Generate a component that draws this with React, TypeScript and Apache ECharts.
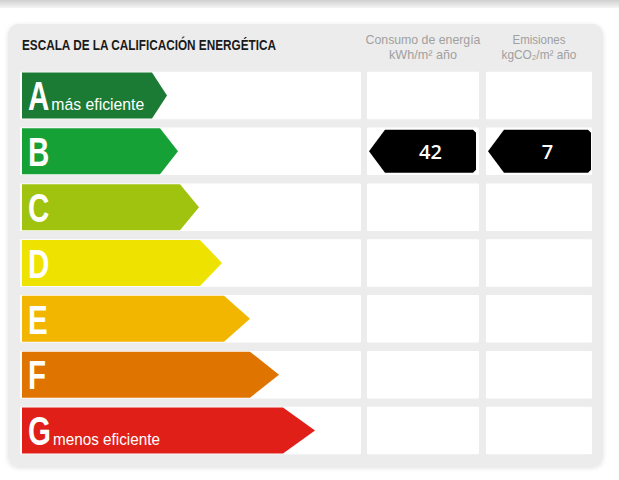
import React, { useEffect, useRef } from 'react';
import * as echarts from 'echarts';

const grades = ['A', 'B', 'C', 'D', 'E', 'F', 'G'];
const gradeNotes = ['más eficiente', '', '', '', '', '', 'menos eficiente'];
const gradeColors = ['#1b7a34', '#16a136', '#a0c30f', '#eee300', '#f2b500', '#e07400', '#df1f18'];
// arrow lengths measured from the arrow's left edge (tip and shoulder)
const arrowTips = [145, 156, 177, 200, 228, 257, 293];
const arrowShoulders = [130, 138, 158, 178, 202, 228, 261];
const title = 'ESCALA DE LA CALIFICACIÓN ENERGÉTICA';
const energyHeader = ['Consumo de energía', 'kWh/m² año'];
const emissionHeader = ['Emisiones', 'kgCO₂/m² año'];
const ratedGrade = 'B';
const energyValue = 42;
const emissionValue = 7;

const SANS = '"Liberation Sans", Arial, sans-serif';

let measureCtx: CanvasRenderingContext2D | null = null;
function textWidth(text: string, font: string) {
  if (!measureCtx) measureCtx = document.createElement('canvas').getContext('2d');
  measureCtx!.font = font;
  return measureCtx!.measureText(text).width;
}
function fitScale(text: string, font: string, target: number) {
  const w = textWidth(text, font);
  return w > 0 ? target / w : 1;
}

export default function App() {
  const ref = useRef<HTMLDivElement>(null);
  useEffect(() => {
    document.body.style.margin = '0';
    const chart = echarts.init(ref.current!, null, { renderer: 'svg' });
    const ratedIdx = grades.indexOf(ratedGrade);

    const titleFont = `bold 15px ${SANS}`;
    const headFont = `12.5px ${SANS}`;
    const headWidths = [[115, 68], [53, 75]];
    const headCenters = [423, 539];
    const letterFont = `bold 41px ${SANS}`;
    const letterScale = 0.72;
    const noteFont = `17px ${SANS}`;
    const noteWidths: Record<number, number> = { 0: 93, 6: 107 };

    const option: any = {
      animation: false,
      backgroundColor: '#ffffff',
      grid: { left: 22, right: 0, top: 67.6, height: 390.8 },
      xAxis: { type: 'value', min: 0, max: 597, show: false },
      yAxis: { type: 'category', data: grades, inverse: true, show: false },
      graphic: [
        {
          type: 'rect', z: 0, silent: true,
          shape: { x: 0, y: 0, width: 619, height: 8 },
          style: {
            fill: new echarts.graphic.LinearGradient(0, 0, 0, 1, [
              { offset: 0, color: '#d0d0d0' },
              { offset: 1, color: '#f4f4f4' },
            ]),
          },
        },
        {
          type: 'rect', z: 0, silent: true,
          shape: { x: 8, y: 24, width: 595, height: 443, r: 10 },
          style: { fill: '#ececec', shadowBlur: 4, shadowColor: 'rgba(0,0,0,0.12)', shadowOffsetY: 1 },
        },
        {
          type: 'text', z: 1, silent: true,
          x: 22, y: 44.5,
          scaleX: fitScale(title, titleFont, 255),
          style: {
            text: title, x: 0, y: 0, fill: '#1a1a1a',
            font: titleFont,
            align: 'left', verticalAlign: 'middle', textAlign: 'left', textVerticalAlign: 'middle',
          },
        },
        ...[energyHeader, emissionHeader].flatMap((lines, c) =>
          lines.map((t, li) => ({
            type: 'text', z: 1, silent: true,
            x: headCenters[c], y: 40 + li * 15,
            scaleX: fitScale(t, headFont, headWidths[c][li]),
            style: {
              text: t, x: 0, y: 0, fill: '#a0a0a0',
              font: headFont,
              align: 'center', verticalAlign: 'middle', textAlign: 'center', textVerticalAlign: 'middle',
            },
          }))
        ),
      ],
      series: [
        {
          type: 'custom',
          z: 2,
          encode: { x: 0, y: 1 },
          data: grades.map((g, i) => [arrowTips[i], i, arrowShoulders[i]]),
          renderItem: (params: any, api: any) => {
            const yIdx = api.value(1);
            const tip = api.coord([api.value(0), yIdx]);
            const shoulder = api.coord([api.value(2), yIdx]);
            const start = api.coord([0, yIdx]);
            const band = api.size([0, 1])[1];
            const h = band * 0.825;
            const cy = tip[1];
            const cellH = h + 1.5;
            const i = params.dataIndex;
            const letterX = start[0] + 6;
            const letterW = textWidth(grades[i], letterFont) * letterScale;
            const children: any[] = [
              { type: 'rect', shape: { x: 20, y: cy - cellH / 2, width: 341, height: cellH, r: 1 }, style: { fill: '#ffffff' } },
              { type: 'rect', shape: { x: 367, y: cy - cellH / 2, width: 112, height: cellH, r: 1 }, style: { fill: '#ffffff' } },
              { type: 'rect', shape: { x: 486, y: cy - cellH / 2, width: 106, height: cellH, r: 1 }, style: { fill: '#ffffff' } },
              {
                type: 'polygon',
                shape: {
                  points: [
                    [start[0], cy - h / 2],
                    [shoulder[0], cy - h / 2],
                    [tip[0], cy],
                    [shoulder[0], cy + h / 2],
                    [start[0], cy + h / 2],
                  ],
                },
                style: { fill: gradeColors[i] },
              },
              {
                type: 'text',
                x: letterX,
                y: cy + 1,
                scaleX: letterScale,
                style: {
                  text: grades[i], x: 0, y: 0, fill: '#ffffff',
                  font: letterFont,
                  align: 'left', verticalAlign: 'middle', textAlign: 'left', textVerticalAlign: 'middle',
                },
              },
            ];
            if (gradeNotes[i]) {
              children.push({
                type: 'text',
                x: letterX + letterW + 2,
                y: cy + 8,
                scaleX: fitScale(gradeNotes[i], noteFont, noteWidths[i] ?? 100),
                style: {
                  text: gradeNotes[i], x: 0, y: 0, fill: '#ffffff',
                  font: noteFont,
                  align: 'left', verticalAlign: 'middle', textAlign: 'left', textVerticalAlign: 'middle',
                },
              });
            }
            return { type: 'group', children };
          },
        },
        {
          type: 'custom',
          z: 3,
          encode: { x: 0, y: 1 },
          data: [
            [0, ratedIdx, energyValue],
            [1, ratedIdx, emissionValue],
          ],
          renderItem: (params: any, api: any) => {
            const col = api.value(0);
            const yIdx = api.value(1);
            const label = String(api.value(2));
            const cy = api.coord([0, yIdx])[1];
            const h = 43;
            const tipX = col === 0 ? 369 : 488;
            const bodyX = col === 0 ? 385 : 504;
            const rightX = col === 0 ? 476 : 591;
            const r = 3;
            return {
              type: 'group',
              children: [
                {
                  type: 'polygon',
                  shape: {
                    points: [
                      [tipX, cy],
                      [bodyX, cy - h / 2],
                      [rightX - r, cy - h / 2],
                      [rightX, cy - h / 2 + r],
                      [rightX, cy + h / 2 - r],
                      [rightX - r, cy + h / 2],
                      [bodyX, cy + h / 2],
                    ],
                  },
                  style: { fill: '#000000' },
                },
                {
                  type: 'text',
                  style: {
                    text: label, x: (bodyX + rightX) / 2, y: cy, fill: '#ffffff',
                    font: '600 20px "Open Sans", sans-serif',
                    align: 'center', verticalAlign: 'middle', textAlign: 'center', textVerticalAlign: 'middle',
                  },
                },
              ],
            };
          },
        },
      ],
    };
    chart.setOption(option);
    return () => chart.dispose();
  }, []);
  return <div ref={ref} style={{ position: 'fixed', left: 0, top: 0, width: 619, height: 480 }} />;
}
